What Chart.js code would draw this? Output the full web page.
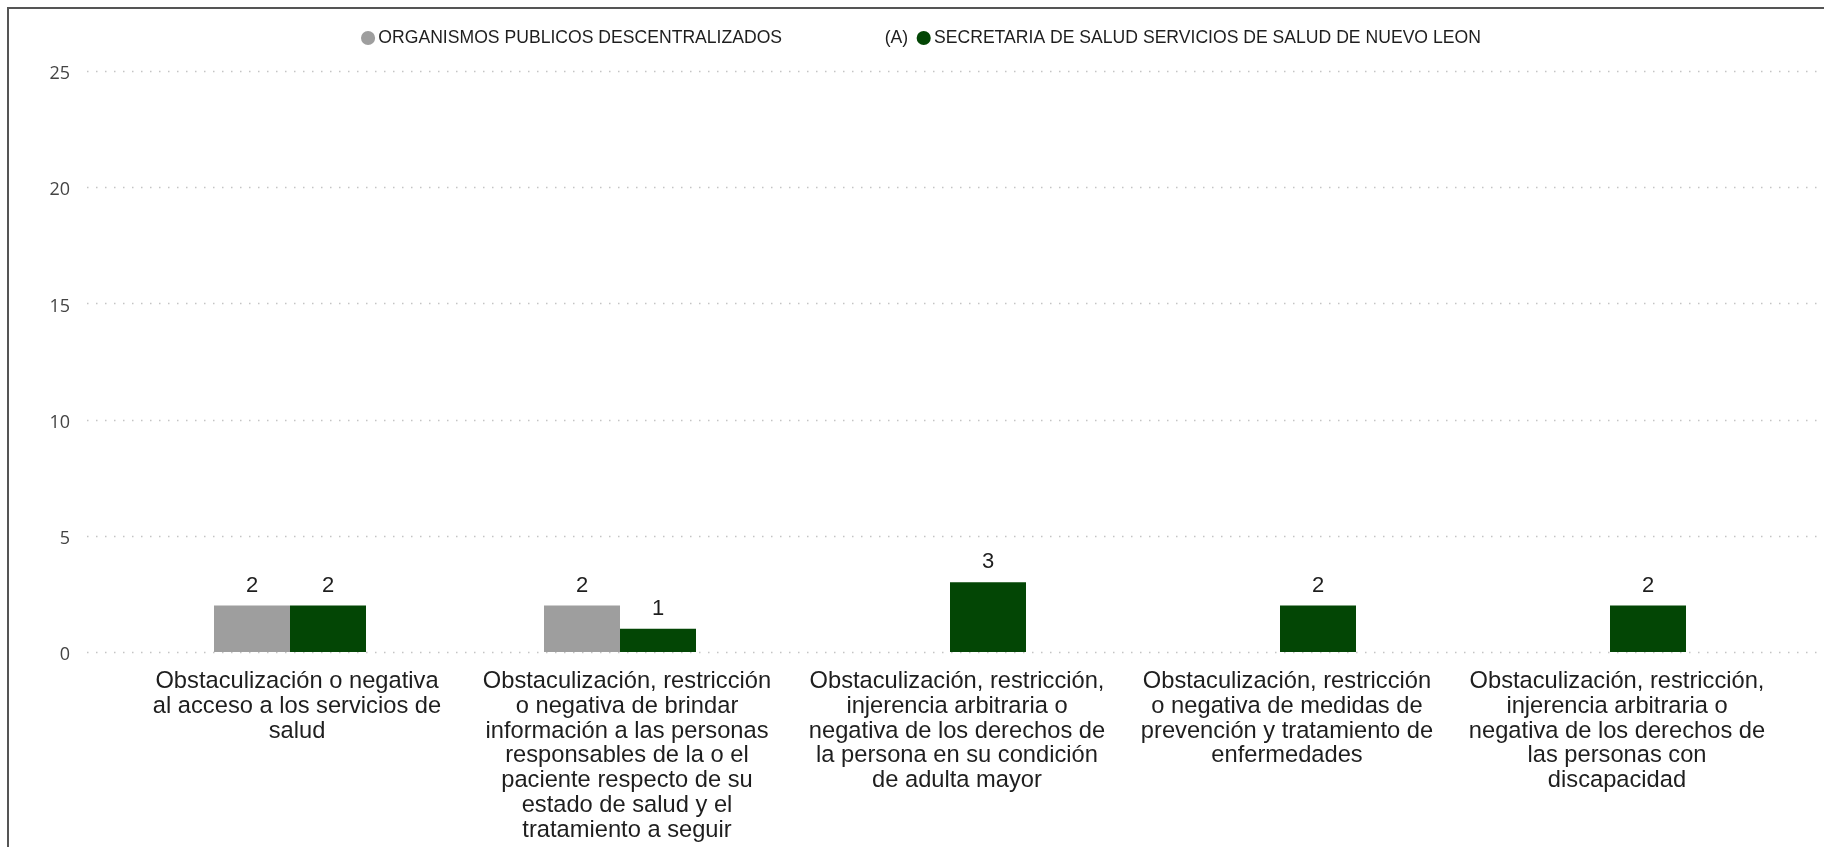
<!DOCTYPE html>
<html>
<head>
<meta charset="utf-8">
<script src="https://cdn.jsdelivr.net/npm/chart.js@4.4.0/dist/chart.umd.min.js"></script>
<style>
  html, body { margin: 0; padding: 0; background: #fff; overflow: hidden; }
  #wrap { position: relative; width: 1824px; height: 847px; overflow: hidden; }
  #frame { position: absolute; left: 7px; top: 7px; width: 1900px; height: 900px; border: 2px solid #555; box-sizing: border-box; }
  #chart { position: absolute; left: 0; top: 0; }
</style>
</head>
<body>
<div id="wrap">
  <div id="frame"></div>
  <canvas id="chart" width="1824" height="847"></canvas>
</div>
<script>
// categorías (etiquetas del eje x, ya partidas en líneas)
const categories = [
  ["Obstaculización o negativa", "al acceso a los servicios de", "salud"],
  ["Obstaculización, restricción", "o negativa de brindar", "información a las personas", "responsables de la o el", "paciente respecto de su", "estado de salud y el", "tratamiento a seguir"],
  ["Obstaculización, restricción,", "injerencia arbitraria o", "negativa de los derechos de", "la persona en su condición", "de adulta mayor"],
  ["Obstaculización, restricción", "o negativa de medidas de", "prevención y tratamiento de", "enfermedades"],
  ["Obstaculización, restricción,", "injerencia arbitraria o", "negativa de los derechos de", "las personas con", "discapacidad"]
];

const seriesNames = ["ORGANISMOS PUBLICOS DESCENTRALIZADOS", "SECRETARIA DE SALUD SERVICIOS DE SALUD DE NUEVO LEON"];
const organismosValues = [2, 2, null, null, null];
const secretariaValues = [2, 1, 3, 2, 2];
const yTicks = [0, 5, 10, 15, 20, 25];

const grayColor = "#9e9e9e";
const greenColor = "#034605";
const textColor = "#1e1e1e";

// lineas punteadas de la cuadricula, a todo lo ancho
const dottedGrid = {
  id: "dottedGrid",
  beforeDatasetsDraw(chart) {
    const y = chart.scales.y;
    const ctx = chart.ctx;
    ctx.save();
    ctx.strokeStyle = "#c4c4c4";
    ctx.lineWidth = 1.5;
    ctx.setLineDash([1.5, 7.5]);
    y.ticks.forEach(t => {
      const py = Math.round(y.getPixelForValue(t.value)) + 0.5;
      ctx.beginPath();
      ctx.moveTo(chart.chartArea.left - 38, py);
      ctx.lineTo(chart.width, py);
      ctx.stroke();
    });
    ctx.restore();
  }
};

// valores encima de las barras
const valueLabels = {
  id: "valueLabels",
  afterDatasetsDraw(chart) {
    const ctx = chart.ctx;
    ctx.save();
    ctx.font = '22px "Liberation Sans", Arial, sans-serif';
    ctx.fillStyle = textColor;
    ctx.textAlign = "center";
    ctx.textBaseline = "alphabetic";
    chart.data.datasets.forEach((ds, i) => {
      chart.getDatasetMeta(i).data.forEach((bar, j) => {
        const v = ds.data[j];
        if (v == null) return;
        ctx.fillText(String(v), bar.x, bar.y - 14);
      });
    });
    ctx.restore();
  }
};

new Chart(document.getElementById("chart").getContext("2d"), {
  type: "bar",
  data: {
    labels: categories,
    datasets: [
      { label: seriesNames[0], data: organismosValues, backgroundColor: grayColor },
      { label: seriesNames[1], data: secretariaValues, backgroundColor: greenColor }
    ]
  },
  options: {
    responsive: false,
    animation: false,
    devicePixelRatio: 1,
    categoryPercentage: 0.4606,
    barPercentage: 1,
    layout: { padding: { top: 15.2, left: 23.4, right: 0, bottom: 0 } },
    plugins: {
      legend: {
        position: "top",
        labels: {
          usePointStyle: true,
          boxWidth: 3,
          boxHeight: 10,
          padding: 14,
          color: textColor,
          font: { family: '"Liberation Sans", Arial, sans-serif', size: 17.6 },
          generateLabels: chart => chart.data.datasets.map((ds, i) => ({
            text: i === 0 ? ds.label + " ".repeat(21) + "(A)" : ds.label,
            fillStyle: ds.backgroundColor,
            strokeStyle: ds.backgroundColor,
            lineWidth: 0,
            pointStyle: "circle",
            fontColor: textColor,
            hidden: false,
            datasetIndex: i
          }))
        }
      },
      // espacio bajo la leyenda
      title: { display: true, text: "", weight: 900, padding: 0, font: { size: 14.2, lineHeight: 1 } },
      tooltip: { enabled: false }
    },
    scales: {
      x: {
        grid: { display: false },
        border: { display: false },
        ticks: {
          color: textColor,
          padding: 9,
          labelOffset: 7,
          maxRotation: 0,
          autoSkip: false,
          font: { family: '"Liberation Sans", Arial, sans-serif', size: 23.7, lineHeight: 1.046 }
        },
        afterFit: s => { s.height = 195; }
      },
      y: {
        min: 0,
        max: 25,
        grid: { display: false },
        border: { display: false },
        afterBuildTicks: s => { s.ticks = yTicks.map(v => ({ value: v })); },
        ticks: {
          color: "#444444",
          padding: 47,
          labelOffset: 3,
          font: { family: '"Open Sans", sans-serif', size: 18 }
        },
        afterFit: s => { s.width = 101.6; }
      },
      y2: {
        position: "right",
        grid: { display: false },
        border: { display: false },
        ticks: { display: false },
        afterFit: s => { s.width = 49; }
      }
    }
  },
  plugins: [dottedGrid, valueLabels]
});
</script>
</body>
</html>
